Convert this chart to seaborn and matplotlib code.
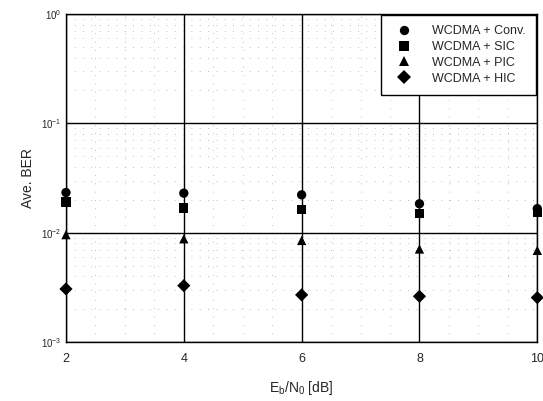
import matplotlib.pyplot as plt
import seaborn as sns
import numpy as np
import pandas as pd

# Eb/N0 values and average BER per receiver
ebn0 = [2, 4, 6, 8, 10]
ber_conv = [0.0233, 0.0230, 0.0222, 0.0184, 0.0166]
ber_sic = [0.0191, 0.0168, 0.0162, 0.0149, 0.0152]
ber_pic = [0.0096, 0.0088, 0.0085, 0.0071, 0.0069]
ber_hic = [0.00306, 0.00328, 0.0027, 0.00262, 0.00255]
labels = ['WCDMA + Conv.', 'WCDMA + SIC', 'WCDMA + PIC', 'WCDMA + HIC']

df = pd.concat([
    pd.DataFrame({'x': ebn0, 'ber': vals, 'scheme': lab})
    for vals, lab in zip([ber_conv, ber_sic, ber_pic, ber_hic], labels)
])

sns.set_style('white')
plt.rcParams['font.family'] = ['Liberation Sans', 'DejaVu Sans']

fig = plt.figure(figsize=(5.43, 4.01), dpi=100)
ax = fig.add_axes([0.1215, 0.147, 0.868, 0.818])

sns.scatterplot(data=df, x='x', y='ber', style='scheme', hue='scheme',
                palette=['black'] * 4, markers=['o', 's', '^', 'D'],
                s=45, edgecolor='black', linewidth=0, ax=ax, zorder=3,
                clip_on=False)

ax.set_yscale('log')
ax.set_ylim(1e-3, 1)
ax.set_xlim(2, 10)
ax.set_xticks([2, 4, 6, 8, 10])

# solid major grid, sparse dotted minor grid
ax.grid(True, which='major', color='black', linewidth=1.0, linestyle='-')
ax.grid(True, which='minor', axis='y', color='#aaaaaa', linewidth=0.6, linestyle=(0, (1, 9)))
ax.set_xticks(np.arange(2, 10, 0.5), minor=True)
ax.grid(True, which='minor', axis='x', color='#aaaaaa', linewidth=0.6, linestyle=(0, (1, 9)))

for sp in ax.spines.values():
    sp.set_color('black')
    sp.set_linewidth(1.0)

ax.tick_params(axis='both', which='major', length=3, color='black', direction='in')
ax.tick_params(axis='both', which='minor', length=0)
ax.tick_params(axis='x', labelsize=9, pad=8)
ax.tick_params(axis='y', labelsize=7)

ax.set_ylabel('Ave. BER', fontsize=10)
ax.set_xlabel('E$_\\mathregular{b}$/N$_\\mathregular{0}$ [dB]', fontsize=10, labelpad=10)

leg = ax.legend(loc='upper right', fontsize=9, frameon=True, fancybox=False,
                edgecolor='black', framealpha=1, borderpad=0.8, handletextpad=1.3,
                labelspacing=0.3, borderaxespad=0.1, markerscale=1.0)
leg.get_frame().set_linewidth(1.0)

fig.savefig('out.png', dpi=100)
